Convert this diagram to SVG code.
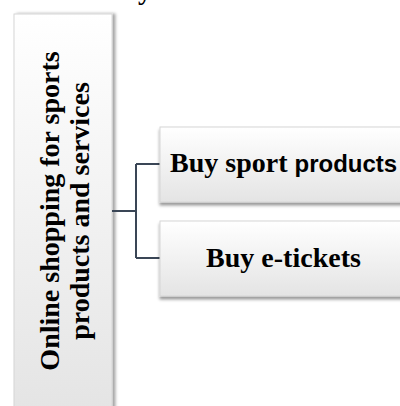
<svg xmlns="http://www.w3.org/2000/svg" width="400" height="406" viewBox="0 0 400 406">
<defs>
<linearGradient id="gv" x1="0" y1="0" x2="0" y2="1">
<stop offset="0" stop-color="#ffffff"/>
<stop offset="1" stop-color="#e4e4e4"/>
</linearGradient>
<filter id="shR" x="-10%" y="-10%" width="130%" height="130%">
<feDropShadow dx="3" dy="0" stdDeviation="1.5" flood-color="#000" flood-opacity="0.35"/>
</filter>
<filter id="shB" x="-10%" y="-20%" width="130%" height="150%">
<feDropShadow dx="0" dy="3" stdDeviation="1.5" flood-color="#000" flood-opacity="0.4"/>
</filter>
<style>
.box{fill:url(#gv);stroke:#d6d6d6;stroke-width:1}
.t{font-family:"Liberation Serif","Times New Roman",serif;font-weight:bold;font-size:28px;fill:#000}
.s{font-family:"Liberation Sans",Arial,sans-serif;font-weight:bold;font-size:24px}
.conn{fill:none;stroke:#3a4656;stroke-width:2}
</style>
</defs>
<text class="t" x="138" y="-1">y</text>
<g id="root">
<rect class="box" x="14" y="14" width="98" height="400" filter="url(#shR)"/>
<text class="t" transform="translate(59,211) rotate(-90)" text-anchor="middle">Online shopping for sports</text>
<text class="t" transform="translate(89,211) rotate(-90)" text-anchor="middle">products and services</text>
</g>
<g id="connectors">
<path class="conn" d="M112,211 H136 M136,164 V258 M136,164 H160 M136,258 H160"/>
</g>
<g id="node-products">
<rect class="box" x="160" y="127" width="250" height="75" filter="url(#shB)"/>
<text class="t" x="170" y="172">Buy sport <tspan class="s">products</tspan></text>
</g>
<g id="node-tickets">
<rect class="box" x="160" y="221" width="250" height="75" filter="url(#shB)"/>
<text class="t" x="283.5" y="267" text-anchor="middle">Buy e-tickets</text>
</g>
</svg>
